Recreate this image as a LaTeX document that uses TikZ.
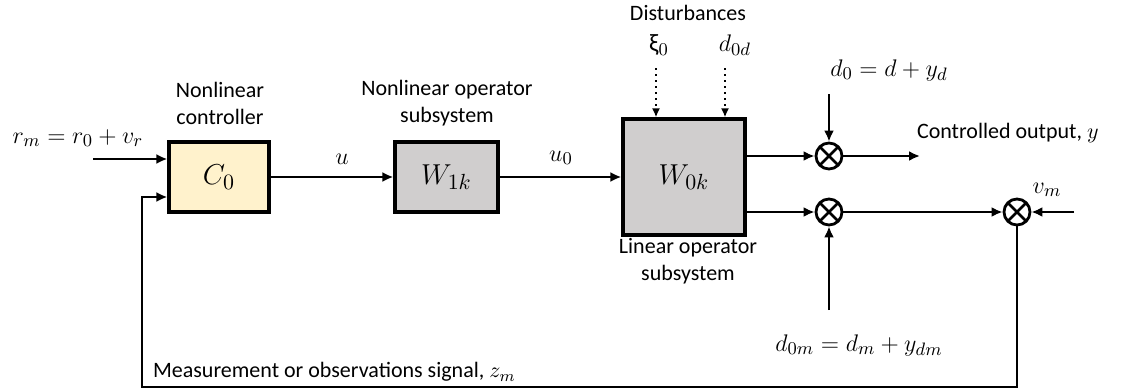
\documentclass[tikz,border=0pt]{standalone}
\usepackage{amsmath}
\usepackage{fontspec}
\setmainfont{Carlito}
\usepackage{tikz}
\usetikzlibrary{arrows.meta, positioning, calc}
\definecolor{ctrlfill}{HTML}{FFF2CC}
\definecolor{opfill}{HTML}{D0CECE}

\begin{document}
\begin{tikzpicture}[x=0.5pt, y=-0.5pt,
    font=\fontsize{11}{13.5}\selectfont,
    blk/.style={draw, line width=1.6pt, inner sep=0pt, font=\fontsize{15}{17}\selectfont},
    mlbl/.style={font=\fontsize{12.5}{14}\selectfont},
    sumjn/.style={draw, circle, line width=1.4pt, minimum size=13pt, inner sep=0pt,
        path picture={\draw[line width=1.4pt]
            (path picture bounding box.south west) -- (path picture bounding box.north east)
            (path picture bounding box.north west) -- (path picture bounding box.south east);}},
    sig/.style={line width=1.4pt, -{Latex[length=5.5pt, width=5pt]}},
    dist/.style={dotted, line width=1pt, -{Latex[length=4.5pt, width=4pt]}}]
    \useasboundingbox (0,0) rectangle (1137,391);
    % blocks
    \node[blk, fill=ctrlfill, minimum width=50pt, minimum height=35pt] (c0) at (219,177) {$C_0$};
    \node[blk, fill=opfill, minimum width=51.5pt, minimum height=35pt] (w1) at (446.5,177) {$W_{1k}$};
    \node[blk, fill=opfill, minimum width=61pt, minimum height=58pt] (w0) at (684,177) {$W_{0k}$};
    % summing junctions
    \node[sumjn] (s1) at (829,156) {};
    \node[sumjn] (s2) at (829,212) {};
    \node[sumjn] (s3) at (1017,212) {};
    % free ends
    \coordinate (rin) at (93,159);
    \coordinate (yout) at (920,156);
    \coordinate (d0in) at (829,94);
    \coordinate (d0min) at (829,310);
    \coordinate (vmin) at (1074,212);
    \coordinate (fbl) at (142,387);
    \coordinate (xitop) at (656,68);
    \coordinate (ddtop) at (725,68);
    % labels
    \node (lc0) at (220,103) [align=center] {Nonlinear\\controller};
    \node (lw1) at (447,103) [align=center] {Nonlinear operator\\subsystem};
    \node (lw0) at (688,261) [align=center] {Linear operator\\subsystem};
    \node (ldist) at (688,13) {Disturbances};
    \node (lxi) at (659,45) [mlbl] {ξ$_0$};
    \node (ldd) at (735,45) [mlbl] {$d_{0d}$};
    \node (lrm) at (78,138) [mlbl] {$r_m = r_0 + v_r$};
    \node (lu) at (342,159) [mlbl] {$u$};
    \node (lu0) at (561,158) [mlbl] {$u_0$};
    \node (ld0) at (889,70) [mlbl] {$d_0 = d + y_d$};
    \node (lyout) at (910,133) [anchor=west] {Controlled output, $y$};
    \node (lvm) at (1047,190) [mlbl] {$v_m$};
    \node (ld0m) at (859,345) [mlbl] {$d_{0m} = d_m + y_{dm}$};
    \node (lzm) at (146,372) [anchor=west] {Measurement or observations signal, $z_m$};
    % signals
    \draw[sig] (rin) -- (rin -| c0.west);
    \draw[sig] (c0) -- (w1);
    \draw[sig] (w1) -- (w0);
    \draw[dist] (xitop) -- (xitop |- w0.north);
    \draw[dist] (ddtop) -- (ddtop |- w0.north);
    \draw[sig] (w0.east |- s1) -- (s1);
    \draw[sig] (w0.east |- s2) -- (s2);
    \draw[sig] (d0in) -- (s1);
    \draw[sig] (s1) -- (yout);
    \draw[sig] (d0min) -- (s2);
    \draw[sig] (s2) -- (s3);
    \draw[sig] (vmin) -- (s3);
    \draw[sig] (s3.south) |- (fbl) |- ([yshift=-10pt]c0.west);
\end{tikzpicture}
\end{document}
